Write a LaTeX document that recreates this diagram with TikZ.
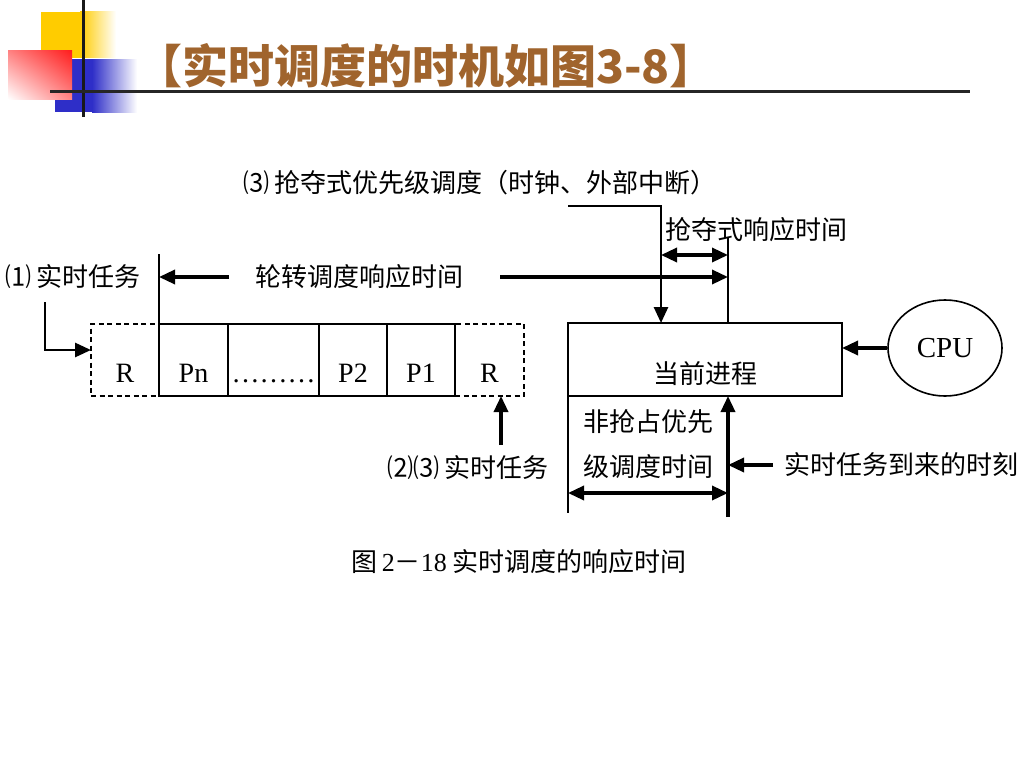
\documentclass[tikz,border=0pt]{standalone}
\usepackage{fontspec}
\setmainfont{Liberation Serif}
\newfontfamily\cjk{Noto Sans CJK SC}
\usetikzlibrary{positioning}
\usetikzlibrary{shapes.geometric}
\usetikzlibrary{arrows.meta}
\usetikzlibrary{shadings}
\definecolor{titlebrown}{RGB}{160,100,45}
\definecolor{decoyellow}{RGB}{255,204,0}
\definecolor{decoblue}{RGB}{46,46,200}
\definecolor{decored}{RGB}{255,30,30}

\tikzset{
  lbl/.style={font=\cjk\fontsize{26pt}{30pt}\selectfont, inner sep=0pt},
  cell/.style={draw, line width=2pt, minimum height=72pt, inner sep=0pt, outer sep=0pt,
    text height=44pt, text depth=0pt, font=\fontsize{28pt}{30pt}\selectfont},
  dcell/.style={cell, line width=2.6pt, dash pattern=on 5pt off 3.5pt},
  fat/.style={line width=3.4pt, -{Triangle[length=16pt,width=14pt]}},
  fatboth/.style={line width=3.4pt, {Triangle[length=16pt,width=14pt]}-{Triangle[length=16pt,width=14pt]}},
  slim/.style={line width=1.6pt}
}

\begin{document}
\begin{tikzpicture}[x=1pt,y=-1pt]
\fill[white] (0,0) rectangle (1024,768);
\useasboundingbox (0,0) rectangle (1024,768);

% corner decoration
\fill[decoyellow] (41,12) rectangle (80,58);
\shade[left color=decoyellow, right color=white] (80,12) rectangle (116,58);
\fill[decoblue] (55,59) rectangle (92,112);
\shade[left color=decoblue, right color=white] (92,59) rectangle (137,112);
\shade[upper right=decored, upper left=decored!55!white, lower right=decored!55!white, lower left=white] (8,51) rectangle (72,99);
\draw[line width=3pt, black!90] (83,0) -- (83,117);
\draw[line width=3pt, black!85] (50,91) -- (970,91);

\node[font=\cjk\bfseries\fontsize{46pt}{50pt}\selectfont, text=titlebrown, inner sep=0pt] (title) at (426,66) {【实时调度的时机如图3-8】};

% ready queue
\node[cell, minimum width=69pt] (pn) at (193.5,360) {Pn};
\node[dcell, minimum width=68pt, left=0pt of pn] (rL) {R};
\node[cell, minimum width=91pt, right=0pt of pn] (dots) {………};
\node[cell, minimum width=68pt, right=0pt of dots] (ptwo) {P2};
\node[cell, minimum width=68pt, right=0pt of ptwo] (pone) {P1};
\node[dcell, minimum width=69pt, right=0pt of pone] (rR) {R};
\draw[line width=2pt] (pn.north west) -- (pn.south west) (pone.north east) -- (pone.south east);

% current process and cpu
\node[draw, line width=2pt, minimum width=274pt, minimum height=73pt, outer sep=0pt,
  lbl, text height=47pt, text depth=0pt] (cur) at (705,359.5) {当前进程};
\node[ellipse, draw, line width=1.6pt, minimum width=114pt, minimum height=96pt, inner sep=0pt,
  font=\fontsize{29pt}{30pt}\selectfont] (cpu) at (945,348) {CPU};

% labels
\node[lbl] (prelbl) at (480,183) {⑶ 抢夺式优先级调度（时钟、外部中断）};
\node[lbl] (preresp) at (756,230) {抢夺式响应时间};
\node[lbl] (task1) at (73,277) {⑴ 实时任务};
\node[lbl] (rrlbl) at (359,277) {轮转调度响应时间};
\node[lbl] (task23) at (468,468) {⑵⑶ 实时任务};
\node[lbl] (nonpre) at (648,422) {非抢占优先};
\node[lbl] (nonpreb) at (648,467) {级调度时间};
\node[lbl] (arrive) at (901,465) {实时任务到来的时刻};
\node[lbl] (caption) at (519,562) {图\,{\fontspec{Liberation Serif}2}－{\fontspec{Liberation Serif}18} 实时调度的响应时间};

% connectors
\coordinate (qtop) at (159,254);
\coordinate (rrl) at (229,277);
\coordinate (rrr) at (500,277);
\coordinate (resp) at (728,237);
\coordinate (pa) at (568,206);
\coordinate (pb) at (661,206);
\coordinate (dup) at (661,255);
\coordinate (t1) at (45,302);
\coordinate (t2) at (501,445);
\coordinate (nb) at (568,513);
\coordinate (arr) at (728,517);
\coordinate (nbd) at (568,493);
\coordinate (rt) at (773,465);

\draw[line width=2.2pt] (qtop) -- (pn.north west);
\draw[fat] (rrl) -- (rrl -| qtop);
\draw[fat] (rrr) -- (rrr -| resp);
\draw[slim] (resp) -- (resp |- cur.north);
\draw[fat, line width=2.6pt] (pa) -- (pb) -- (pb |- cur.north);
\draw[fatboth] (dup) -- (dup -| resp);
\draw[fat, line width=2.8pt] (t1) |- ([yshift=10pt]rL.west);
\draw[fat] (t2) -- (t2 |- rR.south);
\draw[fat] (cpu.west) -- (cpu.west -| cur.east);
\draw[slim] (cur.south west) -- (nb);
\draw[fat] (arr) -- (arr |- cur.south);
\draw[fatboth] (nbd) -- (nbd -| arr);
\draw[fat] (rt) -- (rt -| arr);
\end{tikzpicture}
\end{document}
